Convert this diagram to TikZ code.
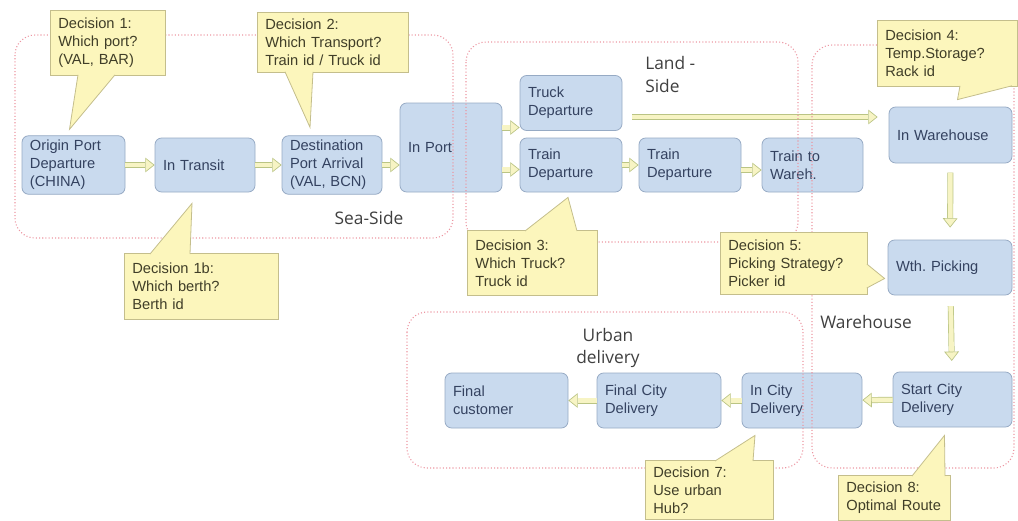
\documentclass[tikz,border=0pt]{standalone}
\usepackage{fontspec}
\setmainfont{Liberation Sans}
\newfontfamily\zonefont{Open Sans}
\usepackage{tikz}
\usetikzlibrary{arrows.meta, calc}
\frenchspacing
\definecolor{boxblue}{RGB}{201,218,238}
\definecolor{boxedge}{RGB}{150,170,196}
\definecolor{boxtext}{RGB}{52,66,96}
\definecolor{noteyel}{RGB}{252,246,188}
\definecolor{noteedge}{RGB}{196,190,140}
\definecolor{notetext}{RGB}{64,62,40}
\definecolor{zonepink}{RGB}{236,150,162}
\definecolor{arrfill}{RGB}{247,244,196}
\definecolor{arredge}{RGB}{186,196,132}
\definecolor{zonetext}{RGB}{64,64,64}
\tikzset{
  block/.style={rectangle, draw=boxedge, fill=boxblue, rounded corners=5pt,
    line width=0.6pt, align=left, inner xsep=6pt, text=boxtext,
    font=\fontsize{11}{13.5}\selectfont},
  note/.style={rectangle, draw=noteedge, fill=noteyel, line width=0.6pt,
    align=left, inner xsep=6pt, inner ysep=4pt, text=notetext, anchor=north west,
    font=\fontsize{11}{13.5}\selectfont},
  tail/.style={draw=noteedge, fill=noteyel, line width=0.6pt},
  zone/.style={draw=zonepink, line width=0.8pt, dash pattern=on 0.8pt off 1.6pt,
    rounded corners=15pt},
  zonelabel/.style={text=zonetext, font=\zonefont\fontsize{13}{17}\selectfont},
  arr/.style={draw=arredge, line width=0.5pt, double=arrfill, double distance=3.5pt,
    -{Triangle[length=7pt, width=11pt, fill=arrfill]}}
}
\begin{document}
\begin{tikzpicture}[x=0.75pt, y=-0.75pt]
  \useasboundingbox (0,0) rectangle (1018,521);

  % Sea-side flow
  \node[block, text width=65.25pt, minimum height=40.5pt] (orig) at (73.5,165) {Origin Port\\Departure\\(CHINA)};
  \node[block, text width=63pt, minimum height=40.5pt] (transit) at (205,165) {In Transit};
  \node[block, text width=63pt, minimum height=40.5pt] (dest) at (332,165) {Destination\\Port Arrival\\(VAL, BCN)};
  \node[block, text width=64.5pt, minimum height=66.75pt] (inport) at (451,147.5) {In Port};

  % Land-side flow
  \node[block, text width=64.5pt, minimum height=41.25pt] (truck) at (571,103) {Truck\\Departure};
  \node[block, text width=64.5pt, minimum height=40.5pt] (train) at (571,165) {Train\\Departure};
  \node[block, text width=64.5pt, minimum height=40.5pt] (train2) at (690,165) {Train\\Departure};
  \node[block, text width=63.75pt, minimum height=40.5pt] (trainwh) at (812.5,165) {Train to\\Wareh.};

  % Warehouse
  \node[block, text width=80.25pt, minimum height=42pt] (wh) at (950.5,135) {In Warehouse};
  \node[block, text width=81pt, minimum height=41.25pt] (pick) at (950,267.5) {Wth. Picking};
  \node[block, text width=77.25pt, minimum height=41.25pt] (start) at (952.5,399.5) {Start City\\Delivery};

  % Urban delivery
  \node[block, text width=78pt, minimum height=41.25pt] (incity) at (802,400.5) {In City\\Delivery};
  \node[block, text width=81pt, minimum height=41.25pt] (finalcity) at (659,400.5) {Final City\\Delivery};
  \node[block, text width=80.25pt, minimum height=41.25pt] (customer) at (506.5,400.5) {Final\\customer};

  % Flow arrows
  \draw[arr] (orig) -- (transit);
  \draw[arr] (transit) -- (dest);
  \draw[arr] (dest.east) -- (dest.east -| inport.west);
  \draw[arr] ($(inport.east)+(0,-20)$) -- ($(inport.east -| truck.west)+(0,-20)$);
  \draw[arr] ($(inport.east)+(0,22)$) -- ($(inport.east -| train.west)+(0,22)$);
  \draw[arr] (train) -- (train2);
  \draw[arr] ($(train2.east)+(0,5)$) -- ($(trainwh.west)+(0,5)$);
  \draw[arr] ($(truck.east)+(10,14)$) -- ($(truck.east -| wh.west)+(-11,14)$);
  \draw[arr, shorten <=7pt, shorten >=9pt] (wh) -- (pick);
  \draw[arr, shorten <=8pt, shorten >=8pt] (pick) -- (start);
  \draw[arr] (start) -- (incity);
  \draw[arr] (incity) -- (finalcity);
  \draw[arr] (finalcity) -- (customer);

  % Zones
  \draw[zone] (15,35) rectangle (453,238);
  \draw[zone] (466,42) rectangle (798,242);
  \draw[zone] (812,45) rectangle (1014,468);
  \draw[zone] (407,312) rectangle (803,468);
  \node[zonelabel] (sealbl) at (369,218) {Sea-Side};
  \node[zonelabel, anchor=north west, align=left, inner sep=0pt] (landlbl) at (645,56) {Land -\\Side};
  \node[zonelabel, anchor=west, inner sep=0pt] (whlbl) at (820,322) {Warehouse};
  \node[zonelabel, align=center, inner sep=0pt] (urbanlbl) at (608,348) {Urban\\delivery};

  % Decisions
  \node[note, text width=74.25pt, minimum height=48.75pt] (d1) at (50,10) {Decision 1:\\Which port?\\(VAL, BAR)};
  \draw[tail] ($(d1.south west)+(28,-1)$) -- ($(orig.north)+(-4,-6)$) -- ($(d1.south west)+(65,-1)$);
  \node[note, text width=101.25pt, minimum height=45pt] (d2) at (257,12) {Decision 2:\\Which Transport?\\Train id / Truck id};
  \draw[tail] ($(d2.south west)+(28,-1)$) -- ($(dest.north)+(-22,-8)$) -- ($(d2.south west)+(56,-1)$);
  \node[note, text width=103.5pt, minimum height=49.5pt] (d1b) at (124,253) {Decision 1b:\\Which berth?\\Berth id};
  \draw[tail] ($(d1b.north west)+(26,1)$) -- ($(transit.south)+(-13,11)$) -- ($(d1b.north west)+(66,1)$);
  \node[note, text width=85.5pt, minimum height=48.75pt] (d3) at (467,230) {Decision 3:\\Which Truck?\\Truck id};
  \draw[tail] ($(d3.north west)+(58,1)$) -- ($(train.south)+(-3,5)$) -- ($(d3.north west)+(110,1)$);
  \node[note, text width=93pt, minimum height=49.5pt] (d4) at (877,20) {Decision 4:\\Temp.Storage?\\Rack id};
  \draw[tail] ($(d4.south west)+(83,-1)$) -- ($(wh.north)+(7,-7)$) -- ($(d4.south west)+(135,-1)$);
  \node[note, text width=98.25pt, minimum height=46.5pt] (d5) at (720,232) {Decision 5:\\Picking Strategy?\\Picker id};
  \draw[tail] ($(d5.north east)+(-1,32)$) -- ($(pick.west)+(-3,11)$) -- ($(d5.north east)+(-1,56)$);
  \node[note, text width=84pt, minimum height=44.25pt] (d7) at (645,460) {Decision 7:\\Use urban\\Hub?};
  \draw[tail] ($(d7.north west)+(70,1)$) -- ($(incity.south)+(-47,7)$) -- ($(d7.north west)+(108,1)$);
  \node[note, text width=72pt, minimum height=33.75pt] (d8) at (838,475) {Decision 8:\\Optimal Route};
  \draw[tail] ($(d8.north west)+(74,1)$) -- ($(start.south)+(-8,8)$) -- ($(d8.north west)+(107,1)$);
\end{tikzpicture}
\end{document}
